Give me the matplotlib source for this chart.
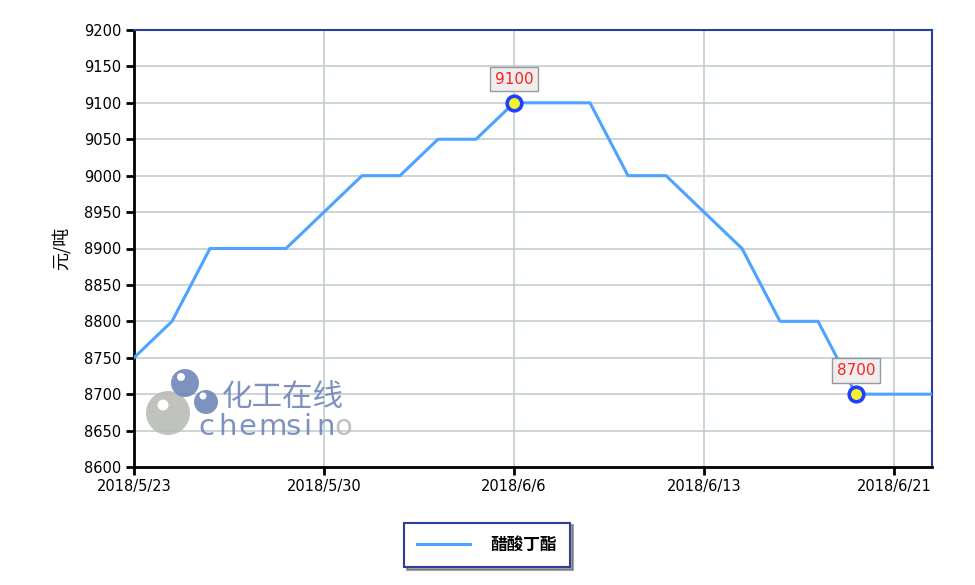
import matplotlib
matplotlib.use("Agg")
import matplotlib.pyplot as plt
from matplotlib.patches import Circle

plt.rcParams['font.family'] = ['Noto Sans CJK SC', 'DejaVu Sans']

dates = ["2018/5/23", "2018/5/24", "2018/5/25", "2018/5/28", "2018/5/29",
         "2018/5/30", "2018/5/31", "2018/6/1", "2018/6/4", "2018/6/5",
         "2018/6/6", "2018/6/7", "2018/6/8", "2018/6/11", "2018/6/12",
         "2018/6/13", "2018/6/14", "2018/6/15", "2018/6/19", "2018/6/20",
         "2018/6/21", "2018/6/22"]
prices = [8750, 8800, 8900, 8900, 8900,
          8950, 9000, 9000, 9050, 9050,
          9100, 9100, 9100, 9000, 9000,
          8950, 8900, 8800, 8800, 8700,
          8700, 8700]
series_name = "醋酸丁酯"
tick_labels = ["2018/5/23", "2018/5/30", "2018/6/6", "2018/6/13", "2018/6/21"]
highlight = ["2018/6/6", "2018/6/20"]
y_ticks = list(range(8600, 9201, 50))

fig = plt.figure(figsize=(9.75, 5.85), dpi=100)
ax = fig.add_axes([134/975, 1-467/585, (932-134)/975, (467-30)/585])

x = list(range(len(dates)))
ax.plot(x, prices, color="#4da3ff", lw=2.2, zorder=3, label=series_name)

for d in highlight:
    i = dates.index(d)
    ax.plot(i, prices[i], 'o', ms=10.5, mfc="#f2f22a", mec="#1f3fff", mew=2.6, zorder=5)
    ax.annotate(str(prices[i]), (i, prices[i]), xytext=(0, 17), textcoords="offset points",
                ha="center", va="center", color="#ff2020", fontsize=11,
                family="DejaVu Sans",
                bbox=dict(boxstyle="square,pad=0.3", fc="#eeeeee", ec="#999999", lw=1),
                zorder=6)

ax.set_xlim(0, len(dates)-1)
ax.set_ylim(8600, 9200)
ax.set_yticks(y_ticks)
ax.set_yticklabels([str(v) for v in y_ticks], family="DejaVu Sans", fontsize=10.5)
tick_pos = [dates.index(t) for t in tick_labels]
ax.set_xticks(tick_pos)
ax.set_xticklabels(tick_labels, family="DejaVu Sans", fontsize=10.5)
ax.tick_params(axis='both', direction='out', length=6, width=2, color='black', pad=3)

ax.grid(True, color="#c2cdd0", lw=1.2, zorder=0)
ax.set_axisbelow(True)
for s in ['left', 'bottom']:
    ax.spines[s].set_color('black')
    ax.spines[s].set_linewidth(2)
for s in ['top', 'right']:
    ax.spines[s].set_color('#2a3f9a')
    ax.spines[s].set_linewidth(1.5)

ax.set_ylabel("元/吨", fontsize=13, labelpad=10)

# watermark
tr = fig.dpi_scale_trans
def px(xp, yp):
    return (xp/100, (585-yp)/100)
fig.patches.append(Circle(px(168, 413), 0.22, transform=tr, fc="#b8bcb6", ec="none", alpha=0.9, zorder=2))
fig.patches.append(Circle(px(163, 405), 0.055, transform=tr, fc="white", ec="none", zorder=2))
fig.patches.append(Circle(px(185, 383), 0.14, transform=tr, fc="#6f86b8", ec="none", alpha=0.9, zorder=2))
fig.patches.append(Circle(px(181, 377), 0.04, transform=tr, fc="white", ec="none", zorder=2))
fig.patches.append(Circle(px(206, 402), 0.12, transform=tr, fc="#6f86b8", ec="none", alpha=0.9, zorder=2))
fig.patches.append(Circle(px(203, 396), 0.035, transform=tr, fc="white", ec="none", zorder=2))
fig.text(222/975, 1-397/585, "化工在线", fontsize=22, color="#6f86b8", alpha=0.9, va="center", ha="left")
letters = "chemsin"
lx = [198, 218, 238, 258, 285, 303, 316]
for ch, xp in zip(letters, lx):
    fig.text(xp/975, 1-427/585, ch, fontsize=21, color="#6f86b8", alpha=0.9, va="center",
             ha="left", family="DejaVu Sans")
fig.text(334/975, 1-427/585, "o", fontsize=21, color="#b8bcb6", alpha=0.9, va="center", ha="left",
         family="DejaVu Sans")

leg = fig.legend(loc="center", bbox_to_anchor=(487/975, 1-545/585), frameon=True,
                 fancybox=False, shadow=True, fontsize=12, handlelength=3.2,
                 borderpad=0.8, handletextpad=1.2, borderaxespad=0)
leg.get_frame().set_edgecolor("#2a3f9a")
leg.get_frame().set_linewidth(1.5)
for t in leg.get_texts():
    t.set_fontweight("bold")

fig.savefig("out.png", dpi=100)
